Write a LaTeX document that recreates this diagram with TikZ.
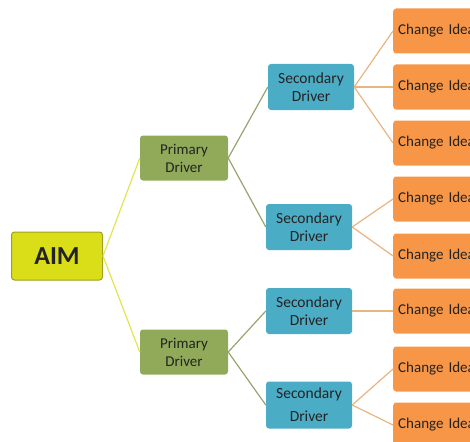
\documentclass[tikz,border=0pt]{standalone}
\usepackage{fontspec}
\setmainfont{Carlito}
\definecolor{aimfill}{RGB}{218,222,24}
\definecolor{aimline}{RGB}{160,160,30}
\definecolor{primfill}{RGB}{145,170,90}
\definecolor{secfill}{RGB}{75,172,198}
\definecolor{ideafill}{RGB}{247,150,70}
\definecolor{aimlink}{RGB}{226,228,80}
\definecolor{primlink}{RGB}{150,165,110}
\definecolor{seclink}{RGB}{232,180,130}
\definecolor{boxtext}{RGB}{35,35,35}
\tikzset{
  aimbox/.style={draw=aimline, line width=1pt, fill=aimfill, rounded corners=3pt,
    minimum width=91pt, minimum height=48pt, font=\fontsize{26}{28}\selectfont\bfseries, text=boxtext},
  primbox/.style={fill=primfill, rounded corners=3pt, minimum width=88pt, minimum height=45pt,
    inner sep=1pt, align=center, font=\fontsize{15}{18}\selectfont, text=boxtext},
  secbox/.style={fill=secfill, rounded corners=3pt, minimum width=86pt, minimum height=46pt,
    inner sep=1pt, align=center, font=\fontsize{15.5}{18}\selectfont, text=boxtext},
  ideabox/.style={fill=ideafill, rounded corners=3pt, anchor=west, minimum height=45pt,
    text width=84pt, inner xsep=5pt, align=left, font=\fontsize{15}{17}\selectfont, text=boxtext},
}
\begin{document}
\begin{tikzpicture}[x=1pt,y=1pt]
\useasboundingbox (0,0) rectangle (470,-441);
\clip (0,0) rectangle (470,-441);
% aim
\node[aimbox] (aim) at (57,-256) {AIM};
% primary drivers
\node[primbox] (p1) at (184,-158) {Primary\\Driver};
\node[primbox] (p2) at (184,-352) {Primary\\Driver};
% secondary drivers
\node[secbox] (s1) at (311,-87) {Secondary\\Driver};
\node[secbox] (s2) at (309,-227) {Secondary\\Driver};
\node[secbox] (s3) at (309,-311) {Secondary\\Driver};
\node[secbox, minimum height=47pt] (s4) at (309,-405) {Secondary\\[5pt]Driver};
% change ideas
\node[ideabox] (c1) at (393,-31) {Change Idea};
\node[ideabox] (c2) at (393,-87) {Change Idea};
\node[ideabox] (c3) at (393,-143) {Change Idea};
\node[ideabox] (c4) at (393,-199) {Change Idea};
\node[ideabox] (c5) at (393,-256) {Change Idea};
\node[ideabox] (c6) at (393,-311) {Change Idea};
\node[ideabox] (c7) at (393,-369) {Change Idea};
\node[ideabox] (c8) at (393,-425) {Change Idea};
% links
\draw[aimlink, line width=1.2pt] (aim.east) -- (p1.west);
\draw[aimlink, line width=1.2pt] (aim.east) -- (p2.west);
\draw[primlink, line width=1.2pt] (p1.east) -- (s1.west);
\draw[primlink, line width=1.2pt] (p1.east) -- (s2.west);
\draw[primlink, line width=1.2pt] (p2.east) -- (s3.west);
\draw[primlink, line width=1.2pt] (p2.east) -- (s4.west);
\draw[seclink, line width=1.2pt] (s1.east) -- (c1.west);
\draw[seclink, line width=1.2pt] (s1.east) -- (c2.west);
\draw[seclink, line width=1.2pt] (s1.east) -- (c3.west);
\draw[seclink, line width=1.2pt] (s2.east) -- (c4.west);
\draw[seclink, line width=1.2pt] (s2.east) -- (c5.west);
\draw[seclink, line width=1.2pt] (s3.east) -- (c6.west);
\draw[seclink, line width=1.2pt] (s4.east) -- (c7.west);
\draw[seclink, line width=1.2pt] (s4.east) -- (c8.west);
\end{tikzpicture}
\end{document}
